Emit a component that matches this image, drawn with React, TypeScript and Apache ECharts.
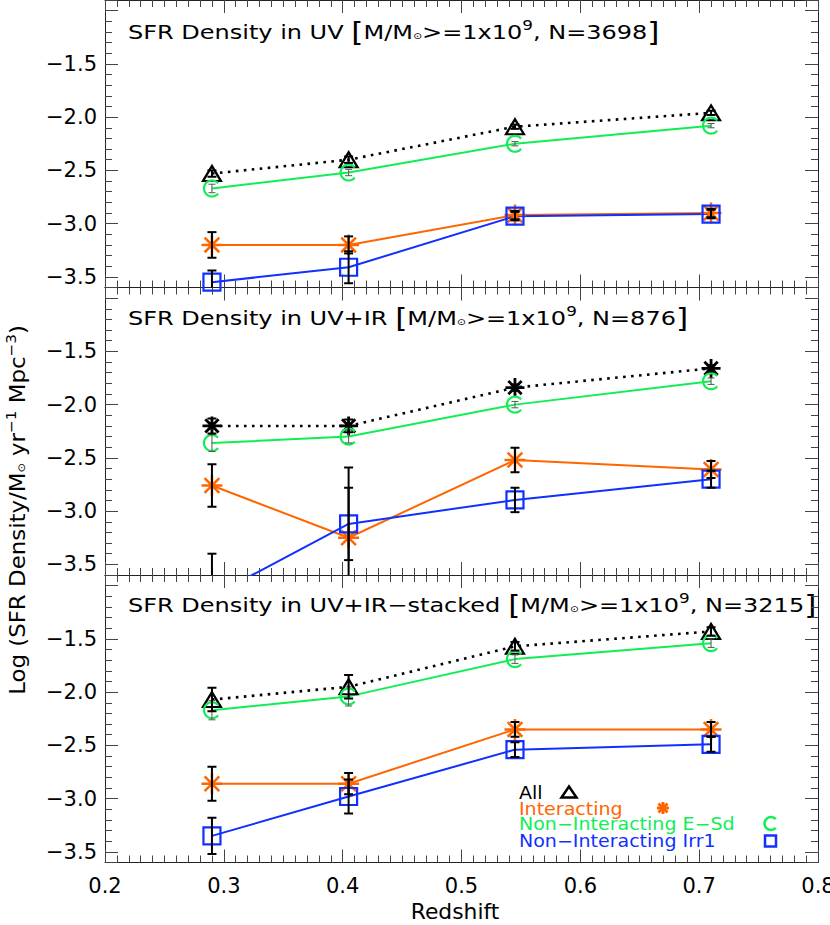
import React, { useEffect, useRef } from 'react';
import * as echarts from 'echarts';

// ---------- data ----------
const redshift = [0.29, 0.405, 0.545, 0.71];
const xTicks = [0.2, 0.3, 0.4, 0.5, 0.6, 0.7, 0.8];
const yTickLabels = [-3.5, -3.0, -2.5, -2.0, -1.5];

// Panel 1: UV
const uvAll = [-2.53, -2.40, -2.09, -1.96];
const uvAllErr = [0.03, 0.03, 0.02, 0.02];
const uvInt = [-3.20, -3.20, -2.92, -2.90];
const uvIntErr = [0.12, 0.08, 0.04, 0.04];
const uvEsd = [-2.67, -2.52, -2.25, -2.08];
const uvEsdErr = [0.04, 0.03, 0.02, 0.02];
const uvIrr = [-3.55, -3.41, -2.93, -2.91];
const uvIrrErr = [0.11, 0.15, 0.04, 0.04];

// Panel 2: UV+IR
const irAll = [-2.20, -2.20, -1.84, -1.66];
const irAllErr = [0.07, 0.06, 0.03, 0.03];
const irInt = [-2.76, -3.25, -2.52, -2.61];
const irIntErr = [0.20, 0.66, 0.115, 0.08];
const irEsd = [-2.36, -2.30, -2.00, -1.78];
const irEsdErr = [0.08, 0.06, 0.03, 0.03];
const irIrr = [-3.80, -3.12, -2.895, -2.70];
const irIrrErr = [0.40, 0.34, 0.115, 0.08];

// Panel 3: UV+IR-stacked
const stAll = [-2.07, -1.95, -1.57, -1.43];
const stAllErr = [0.11, 0.11, 0.04, 0.04];
const stInt = [-2.86, -2.86, -2.35, -2.35];
const stIntErr = [0.16, 0.10, 0.07, 0.07];
const stEsd = [-2.17, -2.04, -1.69, -1.54];
const stEsdErr = [0.09, 0.09, 0.04, 0.04];
const stIrr = [-3.35, -2.98, -2.54, -2.49];
const stIrrErr = [0.17, 0.16, 0.07, 0.07];

const titles = [
  { name: 'UV', n: '3698' },
  { name: 'UV+IR', n: '876' },
  { name: 'UV+IR\u2212stacked', n: '3215' },
];
const legendNames = ['All', 'Interacting', 'Non\u2212Interacting E\u2212Sd', 'Non\u2212Interacting Irr1'];

// ---------- styling ----------
const FONT = 'DejaVu Sans';
const BLACK = '#000000';
const ORANGE = '#ff6600';
const GREEN = '#11ee55';
const BLUE = '#1030ff';
const GRAY = '#444444';

const GRID_LEFT = 105;
const GRID_RIGHT = 12;
const PANEL_TOPS = [0, 287.5, 575];
const PANEL_H = 287.5;

const SYM_TRI = 'path://M9,0L18,15L0,15Z';
const SYM_AST = 'path://M10,0L10,20M0,10L20,10M3,3L17,17M3,17L17,3';
const SYM_SQ = 'path://M0,0L16,0L16,16L0,16Z';
const SYM_C = (() => {
  let d = '';
  for (let a = 40; a <= 320; a += 10) {
    const r = (a * Math.PI) / 180;
    const x = 10 + 10 * Math.cos(r);
    const y = 10 - 10 * Math.sin(r);
    d += (a === 40 ? 'M' : 'L') + x.toFixed(3) + ',' + y.toFixed(3);
  }
  d += 'M20,10L20,10';
  return 'path://' + d;
})();

const fmtY = (v: number) => {
  const ok = yTickLabels.some((t) => Math.abs(t - v) < 1e-6);
  return ok ? v.toFixed(1).replace('-', '\u2212') : '';
};
const fmtX = (v: number) => {
  const ok = xTicks.some((t) => Math.abs(t - v) < 1e-6);
  return ok ? v.toFixed(1) : '';
};

function xAxis(grid: number, position: 'top' | 'bottom', label: boolean) {
  return {
    type: 'value',
    gridIndex: grid,
    position,
    min: 0.2,
    max: 0.8,
    splitNumber: 6,
    axisLine: { show: true, onZero: false, lineStyle: { color: '#222', width: 1 } },
    axisTick: { show: true, inside: true, length: 13, lineStyle: { color: GRAY, width: 1 } },
    minorTick: { show: true, splitNumber: 10, length: 7, lineStyle: { color: GRAY, width: 1 } },
    splitLine: { show: false },
    minorSplitLine: { show: false },
    axisLabel: {
      show: label,
      formatter: fmtX,
      color: BLACK,
      fontFamily: FONT,
      fontSize: 21,
      margin: 13,
    },
  };
}

function yAxis(grid: number, position: 'left' | 'right', label: boolean) {
  return {
    type: 'value',
    gridIndex: grid,
    position,
    min: -3.6,
    max: -0.9,
    splitNumber: 5,
    axisLine: { show: true, onZero: false, lineStyle: { color: '#222', width: 1 } },
    axisTick: { show: true, inside: true, length: 13, lineStyle: { color: GRAY, width: 1 } },
    minorTick: { show: true, splitNumber: 5, length: 7, lineStyle: { color: GRAY, width: 1 } },
    splitLine: { show: false },
    minorSplitLine: { show: false },
    axisLabel: {
      show: label,
      formatter: fmtY,
      color: BLACK,
      fontFamily: FONT,
      fontSize: 21,
      margin: 8,
    },
  };
}

function lineSeries(
  name: string,
  values: number[],
  grid: number,
  color: string,
  symbol: string,
  symbolSize: number | number[],
  dotted: boolean,
  symbolWidth: number
) {
  return {
    type: 'line',
    name,
    xAxisIndex: grid * 2,
    yAxisIndex: grid * 2,
    data: redshift.map((x, i) => [x, values[i]]),
    symbol,
    symbolSize,
    showSymbol: true,
    showAllSymbol: true,
    clip: true,
    silent: true,
    lineStyle: { color, width: dotted ? 2.6 : 2, type: dotted ? [2.6, 5.4] : 'solid' },
    itemStyle: { color: 'none', borderColor: color, borderWidth: symbolWidth },
    emphasis: { disabled: true },
    z: 3,
  };
}

function errSeries(values: number[], errs: number[], grid: number, color: string, lw: number, cap: number) {
  return {
    type: 'custom',
    xAxisIndex: grid * 2,
    yAxisIndex: grid * 2,
    clip: true,
    silent: true,
    z: 4,
    dimensions: ['x', 'lo', 'hi'],
    encode: { x: 0, y: [1, 2] },
    data: redshift.map((x, i) => [x, values[i] - errs[i], values[i] + errs[i]]),
    renderItem: (params: any, api: any) => {
      const x = api.value(0);
      const a = api.coord([x, api.value(2)]);
      const b = api.coord([x, api.value(1)]);
      const style = { stroke: color, lineWidth: lw };
      return {
        type: 'group',
        children: [
          { type: 'line', shape: { x1: a[0], y1: a[1], x2: b[0], y2: b[1] }, style },
          { type: 'line', shape: { x1: a[0] - cap, y1: a[1], x2: a[0] + cap, y2: a[1] }, style },
          { type: 'line', shape: { x1: b[0] - cap, y1: b[1], x2: b[0] + cap, y2: b[1] }, style },
        ],
      };
    },
  };
}

const panelData = [
  { all: uvAll, allErr: uvAllErr, int: uvInt, intErr: uvIntErr, esd: uvEsd, esdErr: uvEsdErr, irr: uvIrr, irrErr: uvIrrErr, allSym: SYM_TRI },
  { all: irAll, allErr: irAllErr, int: irInt, intErr: irIntErr, esd: irEsd, esdErr: irEsdErr, irr: irIrr, irrErr: irIrrErr, allSym: SYM_AST },
  { all: stAll, allErr: stAllErr, int: stInt, intErr: stIntErr, esd: stEsd, esdErr: stEsdErr, irr: stIrr, irrErr: stIrrErr, allSym: SYM_TRI },
];

function buildOption() {
  const grid = PANEL_TOPS.map((top) => ({
    left: GRID_LEFT,
    right: GRID_RIGHT,
    top,
    height: PANEL_H,
    containLabel: false,
    outerBoundsMode: 'none',
  }));
  const xAxes: any[] = [];
  const yAxes: any[] = [];
  PANEL_TOPS.forEach((_, g) => {
    xAxes.push(xAxis(g, 'bottom', g === 2));
    xAxes.push(xAxis(g, 'top', false));
    yAxes.push(yAxis(g, 'left', true));
    yAxes.push(yAxis(g, 'right', false));
  });

  const series: any[] = [];
  panelData.forEach((p, g) => {
    const tri = p.allSym === SYM_TRI;
    series.push(lineSeries(legendNames[0], p.all, g, BLACK, p.allSym, tri ? [18, 15] : 19, true, tri ? 2.2 : 2.8));
    series.push(lineSeries(legendNames[2], p.esd, g, GREEN, SYM_C, 16, false, 2.2));
    series.push(lineSeries(legendNames[1], p.int, g, ORANGE, SYM_AST, 21, false, 2.5));
    series.push(lineSeries(legendNames[3], p.irr, g, BLUE, SYM_SQ, 17, false, 2.2));
  });
  panelData.forEach((p, g) => {
    series.push(errSeries(p.esd, p.esdErr, g, '#555555', 1, 3.5));
    series.push(errSeries(p.all, p.allErr, g, BLACK, 2, 4.5));
    series.push(errSeries(p.int, p.intErr, g, BLACK, 2, 4.5));
    series.push(errSeries(p.irr, p.irrErr, g, BLACK, 2, 4.5));
  });

  const titleRich = {
    s: { fontSize: 9, fontFamily: FONT, fill: BLACK, color: BLACK, padding: [8, 0, 0, 0] },
    p: { fontSize: 14, fontFamily: FONT, fill: BLACK, color: BLACK, verticalAlign: 'top', lineHeight: 28 },
    b: { fontSize: 26, fontFamily: FONT, fill: BLACK, color: BLACK },
  };
  const titleY = [32, 318, 605];
  const graphics: any[] = titles.map((t, i) => ({
    type: 'text',
    x: 128,
    y: titleY[i],
    scaleX: 1.2,
    silent: true,
    style: {
      text: `SFR Density in ${t.name} {b|[}M/M{s|\u2299}>=1x10{p|9}, N=${t.n}{b|]}`,
      fontSize: 20,
      fontFamily: FONT,
      fill: BLACK,
      align: 'left',
      verticalAlign: 'middle',
      rich: titleRich,
    },
  }));

  graphics.push({
    type: 'text',
    x: 17.5,
    y: 510,
    rotation: Math.PI / 2,
    scaleX: 1.09,
    silent: true,
    style: {
      text: 'Log (SFR Density/M{s|\u2299} yr{p|\u22121} Mpc{p|\u22123})',
      fontSize: 21,
      fontFamily: FONT,
      fill: BLACK,
      align: 'center',
      verticalAlign: 'middle',
      rich: {
        s: { fontSize: 10, fontFamily: FONT, fill: BLACK, padding: [8, 0, 0, 0] },
        p: { fontSize: 14, fontFamily: FONT, fill: BLACK, verticalAlign: 'top', lineHeight: 28 },
      },
    },
  });

  graphics.push({
    type: 'text',
    x: 455,
    y: 912,
    scaleX: 1.04,
    silent: true,
    style: {
      text: 'Redshift',
      fontSize: 21,
      fontFamily: FONT,
      fill: BLACK,
      align: 'center',
      verticalAlign: 'middle',
    },
  });

  // legend
  const legColors = [BLACK, ORANGE, GREEN, BLUE];
  const legY = [792.5, 809, 824, 841];
  legendNames.forEach((n, i) => {
    graphics.push({
      type: 'text',
      x: 519,
      y: legY[i],
      scaleX: 1.12,
      silent: true,
      style: {
        text: n,
        fontSize: 17,
        fontFamily: FONT,
        fill: legColors[i],
        align: 'left',
        verticalAlign: 'middle',
      },
    });
  });
  graphics.push({
    type: 'polygon',
    silent: true,
    shape: { points: [[569, 786.5], [576.5, 797.5], [561.5, 797.5]] },
    style: { fill: 'none', stroke: BLACK, lineWidth: 2.5 },
  });
  const ax = 663, ay = 808, ar = 6;
  graphics.push({
    type: 'group',
    silent: true,
    children: [
      { type: 'line', shape: { x1: ax, y1: ay - ar, x2: ax, y2: ay + ar }, style: { stroke: ORANGE, lineWidth: 3 } },
      { type: 'line', shape: { x1: ax - ar, y1: ay, x2: ax + ar, y2: ay }, style: { stroke: ORANGE, lineWidth: 3 } },
      { type: 'line', shape: { x1: ax - ar * 0.75, y1: ay - ar * 0.75, x2: ax + ar * 0.75, y2: ay + ar * 0.75 }, style: { stroke: ORANGE, lineWidth: 3 } },
      { type: 'line', shape: { x1: ax - ar * 0.75, y1: ay + ar * 0.75, x2: ax + ar * 0.75, y2: ay - ar * 0.75 }, style: { stroke: ORANGE, lineWidth: 3 } },
    ],
  });
  graphics.push({
    type: 'arc',
    silent: true,
    shape: { cx: 771, cy: 823.5, r: 6.5, startAngle: 0.75, endAngle: Math.PI * 2 - 0.75, clockwise: true },
    style: { fill: 'none', stroke: GREEN, lineWidth: 2.5 },
  });
  graphics.push({
    type: 'rect',
    silent: true,
    shape: { x: 765, y: 835.5, width: 11, height: 11 },
    style: { fill: 'none', stroke: BLUE, lineWidth: 2.5 },
  });

  return {
    animation: false,
    backgroundColor: '#ffffff',
    grid,
    xAxis: xAxes,
    yAxis: yAxes,
    series,
    graphic: graphics,
    tooltip: { show: false },
  };
}

export default function App() {
  const ref = useRef<HTMLDivElement>(null);
  useEffect(() => {
    if (!ref.current) return;
    const chart = echarts.init(ref.current, null, { renderer: 'svg' });
    chart.setOption(buildOption() as any);
    return () => chart.dispose();
  }, []);
  return (
    <div
      ref={ref}
      style={{ position: 'absolute', left: 0, top: 0, width: 830, height: 925, background: '#fff' }}
    />
  );
}
